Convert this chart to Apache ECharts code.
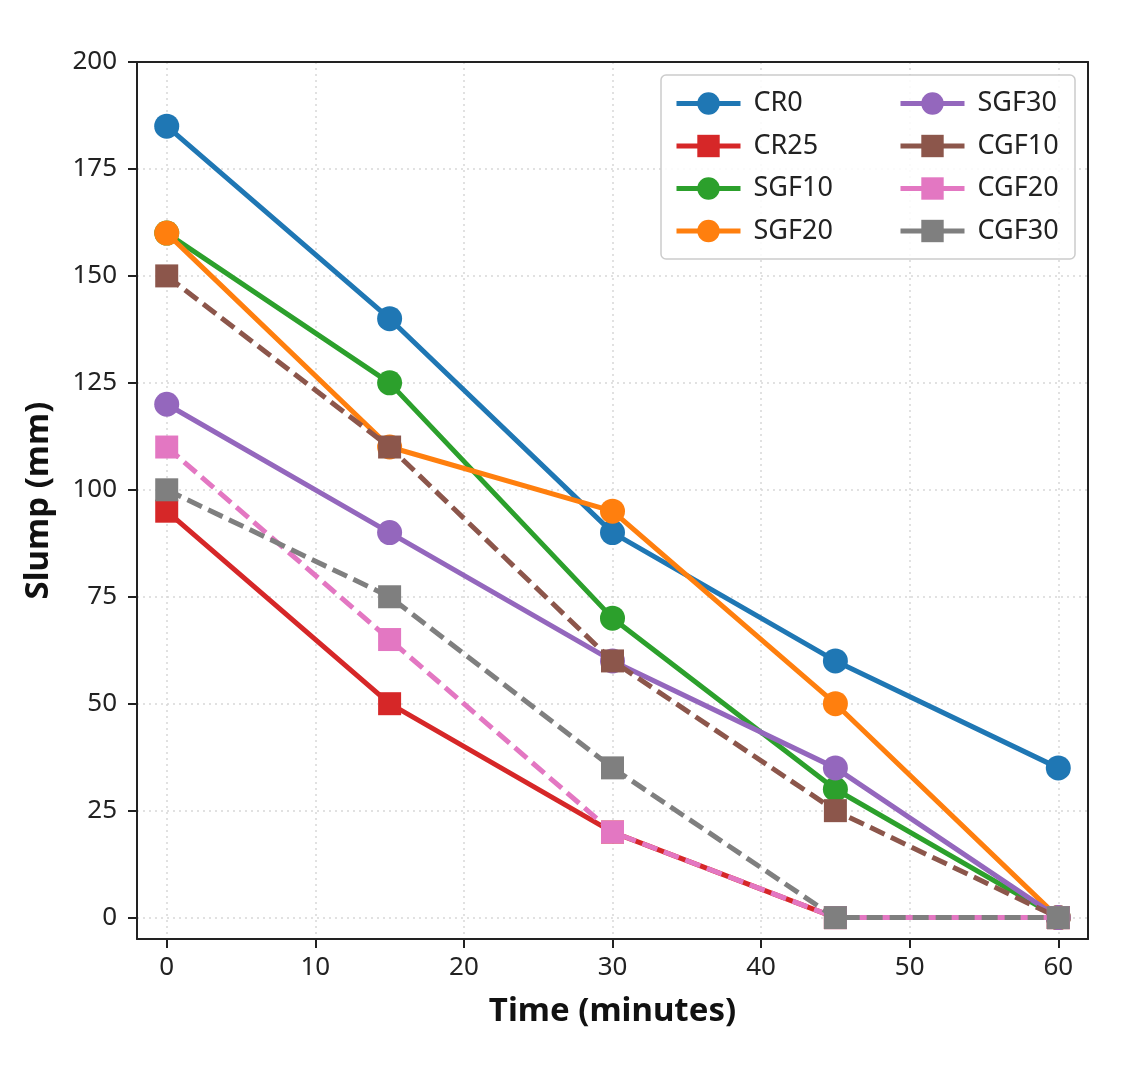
<!DOCTYPE html>
<html>
<head>
<meta charset="utf-8">
<script src="https://cdn.jsdelivr.net/npm/echarts@6/dist/echarts.min.js"></script>
<style>html,body{margin:0;padding:0;background:#fff}#c{width:1145px;height:1090px}</style>
</head>
<body>
<div id="c"></div>
<script>
const times = [0, 15, 30, 45, 60];
const seriesNames = ['CR0', 'CR25', 'SGF10', 'SGF20', 'SGF30', 'CGF10', 'CGF20', 'CGF30'];
const CR0 = [185, 140, 90, 60, 35];
const CR25 = [95, 50, 20, 0, 0];
const SGF10 = [160, 125, 70, 30, 0];
const SGF20 = [160, 110, 95, 50, 0];
const SGF30 = [120, 90, 60, 35, 0];
const CGF10 = [150, 110, 60, 25, 0];
const CGF20 = [110, 65, 20, 0, 0];
const CGF30 = [100, 75, 35, 0, 0];
const xTicks = [0, 10, 20, 30, 40, 50, 60];
const yTicks = [0, 25, 50, 75, 100, 125, 150, 175, 200];

const values = [CR0, CR25, SGF10, SGF20, SGF30, CGF10, CGF20, CGF30];
const colors = ['#1f77b4', '#d62728', '#2ca02c', '#ff7f0e', '#9467bd', '#8c564b', '#e377c2', '#7f7f7f'];
const symbols = ['circle', 'rect', 'circle', 'circle', 'circle', 'rect', 'rect', 'rect'];
const dashed = [false, false, false, false, false, true, true, true];

const FONT = 'Noto Sans';

const series = seriesNames.map((name, i) => ({
  name: name,
  type: 'line',
  xAxisIndex: 0,
  yAxisIndex: 0,
  z: 3 + i,
  data: times.map((t, j) => [t, values[i][j]]),
  symbol: symbols[i],
  symbolSize: symbols[i] === 'circle' ? 25 : 23,
  showSymbol: true,
  color: colors[i],
  itemStyle: { color: colors[i] },
  lineStyle: { width: 5, color: colors[i], type: dashed[i] ? [16, 7] : 'solid' },
  emphasis: { disabled: true },
  animation: false
}));

const legendCommon = {
  orient: 'vertical',
  itemWidth: 64,
  itemHeight: 28,
  itemGap: 15.5,
  top: 85,
  lineStyle: { type: 'solid', width: 5 },
  textStyle: { fontFamily: FONT, fontSize: 27, color: '#222', padding: [0, 0, 0, 8] },
  selectedMode: false
};

const spine = { show: true, onZero: false, lineStyle: { color: '#222', width: 2 } };
const hidden = { show: false };

const chart = echarts.init(document.getElementById('c'), null, { renderer: 'canvas' });
chart.setOption({
  backgroundColor: '#ffffff',
  animation: false,
  grid: { left: 137, right: 57, top: 62, bottom: 151 },
  graphic: [{
    type: 'rect',
    shape: { x: 661, y: 75, width: 414, height: 184, r: 5 },
    style: { fill: 'rgba(255,255,255,0.85)', stroke: '#cccccc', lineWidth: 1.5 },
    z: 20
  }],
  legend: [
    Object.assign({ left: 669, data: seriesNames.slice(0, 4), z: 21 }, legendCommon),
    Object.assign({ left: 893, data: seriesNames.slice(4), z: 21 }, legendCommon)
  ],
  xAxis: [{
    type: 'value', min: -2, max: 62, position: 'bottom',
    name: 'Time (minutes)', nameLocation: 'middle', nameGap: 56,
    nameTextStyle: { fontFamily: FONT, fontSize: 33, fontWeight: 'bold', color: '#111' },
    axisLine: spine,
    axisTick: { show: true, customValues: xTicks, length: 9, lineStyle: { color: '#222', width: 2 } },
    axisLabel: { customValues: xTicks, fontFamily: FONT, fontSize: 26, color: '#222', margin: 16 },
    splitLine: { show: true, lineStyle: { color: '#d8d8d8', type: [2, 4], width: 1.5 } }
  }, {
    type: 'value', min: -2, max: 62, position: 'top',
    axisLine: spine, axisTick: hidden, axisLabel: hidden, splitLine: hidden
  }],
  yAxis: [{
    type: 'value', min: -5, max: 200, position: 'left',
    name: 'Slump (mm)', nameLocation: 'middle', nameGap: 82,
    nameTextStyle: { fontFamily: FONT, fontSize: 33, fontWeight: 'bold', color: '#111' },
    axisLine: spine,
    axisTick: { show: true, customValues: yTicks, length: 9, lineStyle: { color: '#222', width: 2 } },
    axisLabel: { customValues: yTicks, fontFamily: FONT, fontSize: 26, color: '#222', margin: 20 },
    splitLine: { show: true, lineStyle: { color: '#d8d8d8', type: [2, 4], width: 1.5 } }
  }, {
    type: 'value', min: -5, max: 200, position: 'right',
    axisLine: spine, axisTick: hidden, axisLabel: hidden, splitLine: hidden
  }],
  series: series
});
</script>
</body>
</html>
